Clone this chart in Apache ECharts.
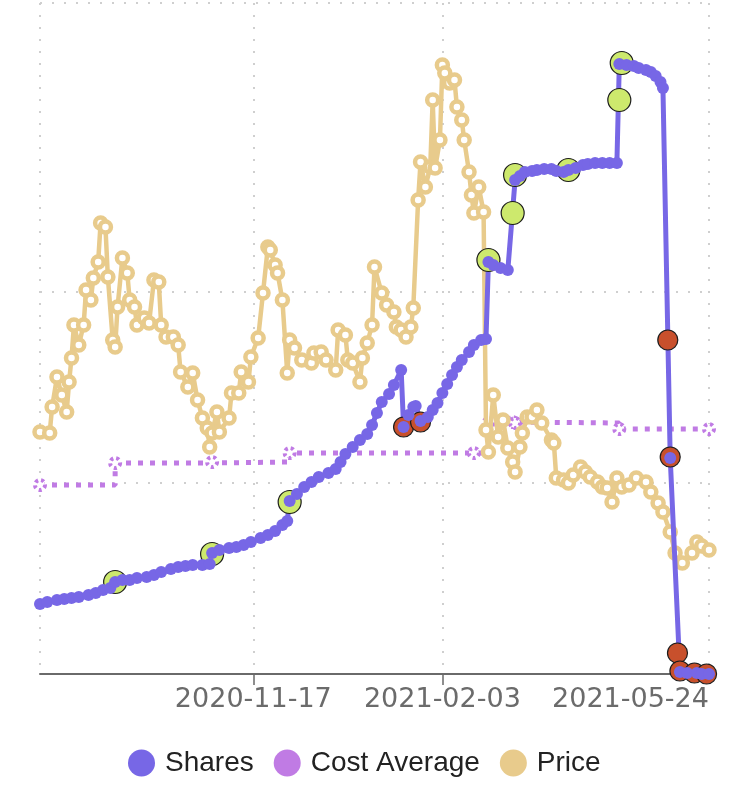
<!DOCTYPE html>
<html>
<head>
<meta charset="utf-8">
<script src="https://cdn.jsdelivr.net/npm/echarts@6/dist/echarts.min.js"></script>
<style>
html,body{margin:0;padding:0;background:#fff;}
#chart{width:750px;height:800px;}
</style>
</head>
<body>
<div id="chart"></div>
<script>
// ---- data ----
var axisLabelDates = ['2020-11-17', '2021-02-03', '2021-05-24'];
var axisTickDates = ['2020-11-17', '2021-02-03'];
var axisStart = '2020-08-21';
var axisEnd = '2021-05-24';

var priceDates = ['2020-08-21','2020-08-25','2020-08-26','2020-08-28','2020-08-30','2020-09-01','2020-09-02','2020-09-03','2020-09-04','2020-09-06','2020-09-08','2020-09-09','2020-09-11','2020-09-12','2020-09-14','2020-09-15','2020-09-17','2020-09-18','2020-09-20','2020-09-21','2020-09-22','2020-09-24','2020-09-26','2020-09-27','2020-09-29','2020-09-30','2020-10-03','2020-10-05','2020-10-07','2020-10-09','2020-10-10','2020-10-12','2020-10-15','2020-10-17','2020-10-18','2020-10-21','2020-10-23','2020-10-25','2020-10-27','2020-10-29','2020-10-30','2020-10-31','2020-11-02','2020-11-03','2020-11-07','2020-11-08','2020-11-11','2020-11-12','2020-11-15','2020-11-16','2020-11-19','2020-11-21','2020-11-23','2020-11-24','2020-11-26','2020-11-27','2020-11-29','2020-12-01','2020-12-02','2020-12-04','2020-12-07','2020-12-11','2020-12-12','2020-12-15','2020-12-17','2020-12-21','2020-12-22','2020-12-25','2020-12-26','2020-12-28','2020-12-31','2021-01-01','2021-01-03','2021-01-05','2021-01-06','2021-01-09','2021-01-11','2021-01-14','2021-01-15','2021-01-17','2021-01-19','2021-01-21','2021-01-22','2021-01-24','2021-01-25','2021-01-27','2021-01-29','2021-01-30','2021-01-31','2021-02-02','2021-02-03','2021-02-04','2021-02-06','2021-02-08','2021-02-09','2021-02-11','2021-02-12','2021-02-14','2021-02-15','2021-02-16','2021-02-18','2021-02-20','2021-02-21','2021-02-22','2021-02-24','2021-02-26','2021-02-28','2021-03-02','2021-03-04','2021-03-05','2021-03-07','2021-03-08','2021-03-10','2021-03-12','2021-03-14','2021-03-16','2021-03-20','2021-03-21','2021-03-22','2021-03-25','2021-03-27','2021-03-29','2021-04-01','2021-04-03','2021-04-05','2021-04-08','2021-04-10','2021-04-12','2021-04-14','2021-04-16','2021-04-18','2021-04-21','2021-04-24','2021-04-28','2021-04-30','2021-05-03','2021-05-05','2021-05-08','2021-05-10','2021-05-13','2021-05-17','2021-05-19','2021-05-21','2021-05-24'];
var priceValues = [24.2,24.1,26.7,29.7,27.9,26.2,29.2,31.6,34.9,32.9,34.9,38.4,37.4,39.6,41.2,45.1,44.7,39.7,33.4,32.7,36.7,41.6,40.1,37.4,36.7,34.9,35.6,35.1,39.4,39.2,34.9,33.7,33.7,32.9,30.2,28.7,30.1,27.4,25.6,24.6,22.7,24.1,26.2,24.2,25.6,28.1,28.1,30.2,29.2,31.7,33.6,38.1,42.7,42.4,40.9,40.1,37.4,30.1,33.4,32.6,31.4,31.1,32.1,32.2,31.4,30.4,34.4,33.9,31.4,31.1,29.2,31.6,33.1,34.9,40.7,38.1,36.9,36.2,34.7,34.4,33.7,34.7,36.6,47.4,51.2,48.7,50.7,57.4,50.6,53.4,60.9,60.1,59.1,59.4,56.7,55.4,53.4,50.2,47.9,46.1,48.7,46.2,24.4,22.2,27.9,23.7,25.4,22.6,21.2,20.2,22.7,24.1,25.7,25.7,26.4,25.1,23.4,23.1,19.6,19.4,19.1,19.9,20.7,20.2,19.7,19.2,18.7,18.6,17.2,19.6,18.7,18.9,19.6,19.2,18.2,17.1,16.2,14.2,12.1,11.1,12.1,13.2,12.8,12.4];

var sharesDates = ['2020-08-21','2020-08-24','2020-08-28','2020-08-31','2020-09-03','2020-09-06','2020-09-10','2020-09-13','2020-09-16','2020-09-19','2020-09-21','2020-09-24','2020-09-27','2020-09-30','2020-10-04','2020-10-07','2020-10-10','2020-10-14','2020-10-17','2020-10-20','2020-10-23','2020-10-27','2020-10-30','2020-10-31','2020-11-03','2020-11-07','2020-11-10','2020-11-13','2020-11-16','2020-11-20','2020-11-23','2020-11-26','2020-11-29','2020-12-01','2020-12-02','2020-12-05','2020-12-08','2020-12-11','2020-12-14','2020-12-18','2020-12-21','2020-12-23','2020-12-25','2020-12-28','2020-12-31','2021-01-03','2021-01-05','2021-01-07','2021-01-09','2021-01-12','2021-01-14','2021-01-17','2021-01-18','2021-01-20','2021-01-22','2021-01-23','2021-01-25','2021-01-28','2021-01-30','2021-02-01','2021-02-03','2021-02-05','2021-02-07','2021-02-09','2021-02-11','2021-02-14','2021-02-16','2021-02-19','2021-02-21','2021-02-22','2021-02-24','2021-02-27','2021-03-02','2021-03-05','2021-03-07','2021-03-09','2021-03-12','2021-03-14','2021-03-17','2021-03-20','2021-03-22','2021-03-25','2021-03-27','2021-03-30','2021-04-02','2021-04-04','2021-04-07','2021-04-10','2021-04-13','2021-04-16','2021-04-17','2021-04-20','2021-04-23','2021-04-25','2021-04-28','2021-04-30','2021-05-02','2021-05-04','2021-05-05','2021-05-08','2021-05-12','2021-05-15','2021-05-19','2021-05-21','2021-05-24'];
var sharesValues = [35,36,37,37.5,38,38.5,39.5,40.5,42,43,46,47,47,48,48.5,49.5,51,52.5,53.5,54,54.5,54.5,55,60.5,62,63,63.5,64.5,66,68,69.5,71.5,74.5,76.5,86.5,90,93.5,96,98.5,100.5,102.5,106,110,113.5,117,120,124.5,130.5,136,140,144.5,152,123.5,129.5,133.5,134,126.5,128.5,132,135.5,140.5,145,149.5,153.5,157,161,164.5,167,167.5,206,204.5,203,202,247,249,251,251.5,252,252.5,252.5,251.5,251,252,253,254.5,255,255.5,255.5,255.5,255.5,305,304.5,304,303,302,301,299,296,293,108,1,0.5,0.5,0,0];

var costDates = ['2020-08-21','2020-09-21','2020-10-31','2020-12-02','2021-02-16','2021-02-22','2021-03-04','2021-03-05','2021-04-17','2021-05-24'];
var costValues = [18.9,21.1,21.2,22.1,22.1,25.1,25.2,25.1,24.5,24.5];

var buyDates = ['2020-09-21','2020-10-31','2020-12-02','2021-02-22','2021-03-04','2021-03-05','2021-03-27','2021-04-17','2021-04-18'];
var buyShares = [46,60,86,207,230.5,249.5,252,287,305.5];

var sellDates = ['2021-01-18','2021-01-25','2021-05-07','2021-05-08','2021-05-11','2021-05-12','2021-05-18','2021-05-23'];
var sellShares = [123.5,126,167,108.5,10.5,1.5,0.5,0];

var legendNames = ['Shares', 'Cost Average', 'Price'];

// ---- styles ----
var C_SHARES = '#7767e6';
var C_COST = '#c07be4';
var C_PRICE = '#e8cb8c';
var C_BUY = '#cde96d';
var C_SELL = '#c8502c';
var GRID_LINE = {show: true, lineStyle: {color: '#cfcfcf', width: 2, type: [2, 10]}};
var LABEL_FONT = {fontFamily: 'DejaVu Sans', fontSize: 27, color: '#6b6b6b'};

function t(s) { return Date.parse(s + 'T00:00:00Z'); }
function pairs(d, v) { return d.map(function (x, i) { return [t(x), v[i]]; }); }
function pad2(n) { return (n < 10 ? '0' : '') + n; }
function fmtDate(val) {
  var d = new Date(val);
  return d.getUTCFullYear() + '-' + pad2(d.getUTCMonth() + 1) + '-' + pad2(d.getUTCDate());
}
var lastLabelTime = t(axisLabelDates[axisLabelDates.length - 1]);

var chart = echarts.init(document.getElementById('chart'), null, {renderer: 'canvas'});
chart.setOption({
  animation: false,
  backgroundColor: '#ffffff',
  grid: {left: 40, right: 41, top: 3, bottom: 126, outerBoundsMode: 'none', containLabel: false},
  legend: {
    data: [
      {name: legendNames[0], itemStyle: {color: C_SHARES}},
      {name: legendNames[1], itemStyle: {color: C_COST}},
      {name: legendNames[2], itemStyle: {color: C_PRICE}}
    ],
    left: 123, top: 744,
    icon: 'circle', itemWidth: 27, itemHeight: 27, itemGap: 20,
    itemStyle: {borderWidth: 0},
    textStyle: {fontFamily: 'Liberation Sans', fontSize: 28, color: '#222', padding: [0, 0, 0, 5]}
  },
  xAxis: [{
    type: 'value',
    min: t(axisStart), max: t(axisEnd),
    axisLine: {show: true, lineStyle: {color: '#6a6a6a', width: 2}},
    axisTick: {show: true, customValues: axisTickDates.map(t), length: 11, lineStyle: {color: '#6a6a6a', width: 1.5}},
    axisLabel: {
      show: true, customValues: axisLabelDates.map(t), margin: 12, hideOverlap: false,
      showMinLabel: true, showMaxLabel: true,
      fontFamily: LABEL_FONT.fontFamily, fontSize: LABEL_FONT.fontSize, color: LABEL_FONT.color,
      formatter: function (val) {
        var s = fmtDate(val);
        if (Math.abs(val - lastLabelTime) < 43200000) { return '{r|' + s + '}'; }
        return s;
      },
      rich: {
        r: {fontFamily: LABEL_FONT.fontFamily, fontSize: LABEL_FONT.fontSize, color: LABEL_FONT.color, padding: [0, 157, 0, 0]}
      }
    },
    splitLine: GRID_LINE
  }, {
    type: 'value', position: 'top',
    min: t(axisStart), max: t(axisEnd),
    axisLine: {show: false}, axisLabel: {show: false},
    axisTick: {show: false, customValues: [t(axisStart), t(axisEnd)]},
    splitLine: GRID_LINE
  }],
  yAxis: [{
    type: 'value', min: 0, max: 335.5,
    axisLine: {show: false}, axisLabel: {show: false}, axisTick: {show: false}, splitLine: {show: false}
  }, {
    type: 'value', min: 0, max: 67.1, position: 'right',
    axisLine: {show: false}, axisLabel: {show: false},
    axisTick: {show: false, customValues: [19.1, 38.2, 67.1]},
    splitLine: GRID_LINE
  }],
  series: [
    {
      name: 'Cost Average', type: 'line', yAxisIndex: 1, z: 1,
      step: 'end',
      data: pairs(costDates, costValues),
      symbol: 'circle', symbolSize: 10,
      itemStyle: {color: '#ffffff', borderColor: C_COST, borderWidth: 4, borderType: [3, 3]},
      lineStyle: {color: C_COST, width: 5, type: [5, 7], cap: 'butt'}
    },
    {
      name: 'Price', type: 'line', yAxisIndex: 1, z: 2,
      data: pairs(priceDates, priceValues),
      symbol: 'circle', symbolSize: 11,
      itemStyle: {color: '#ffffff', borderColor: C_PRICE, borderWidth: 4.5},
      lineStyle: {color: C_PRICE, width: 4.5, join: 'round'}
    },
    {
      name: 'Shares', type: 'line', yAxisIndex: 0, z: 3,
      data: pairs(sharesDates, sharesValues),
      showSymbol: false, symbol: 'circle',
      itemStyle: {color: C_SHARES},
      lineStyle: {color: C_SHARES, width: 5, join: 'round'}
    },
    {
      name: 'Buy', type: 'scatter', yAxisIndex: 0, z: 4,
      data: pairs(buyDates, buyShares),
      symbol: 'circle', symbolSize: 23,
      itemStyle: {color: C_BUY, borderColor: '#1c1c1c', borderWidth: 1.2, opacity: 1}
    },
    {
      name: 'Sell', type: 'scatter', yAxisIndex: 0, z: 4,
      data: pairs(sellDates, sellShares),
      symbol: 'circle', symbolSize: 20,
      itemStyle: {color: C_SELL, borderColor: '#1c1c1c', borderWidth: 1.2, opacity: 1}
    },
    {
      name: 'Shares', type: 'line', yAxisIndex: 0, z: 5,
      data: pairs(sharesDates, sharesValues),
      symbol: 'circle', symbolSize: 12, showSymbol: true,
      itemStyle: {color: C_SHARES},
      lineStyle: {width: 0, opacity: 0}
    }
  ]
});
</script>
</body>
</html>
